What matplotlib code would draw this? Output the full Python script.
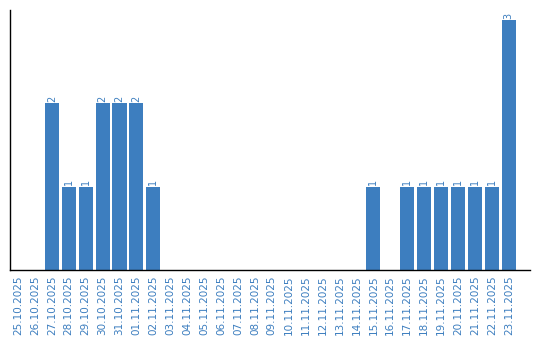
import matplotlib
matplotlib.use("Agg")
import matplotlib.pyplot as plt

dates = ["25.10.2025", "26.10.2025", "27.10.2025", "28.10.2025", "29.10.2025",
         "30.10.2025", "31.10.2025", "01.11.2025", "02.11.2025", "03.11.2025",
         "04.11.2025", "05.11.2025", "06.11.2025", "07.11.2025", "08.11.2025",
         "09.11.2025", "10.11.2025", "11.11.2025", "12.11.2025", "13.11.2025",
         "14.11.2025", "15.11.2025", "16.11.2025", "17.11.2025", "18.11.2025",
         "19.11.2025", "20.11.2025", "21.11.2025", "22.11.2025", "23.11.2025"]
counts = [0, 0, 2, 1, 1, 2, 2, 2, 1, 0,
          0, 0, 0, 0, 0, 0, 0, 0, 0, 0,
          0, 1, 0, 1, 1, 1, 1, 1, 1, 3]

blue = "#3d7ebf"

fig = plt.figure(figsize=(5.4, 3.4), dpi=100)
ax = fig.add_axes([0.0185, 0.206, 0.9625, 0.764])
x = list(range(len(dates)))
ax.bar(x, counts, width=0.83, color=blue)
for xi, c in zip(x, counts):
    if c > 0:
        ax.text(xi, c + 0.02, str(c), rotation=90, ha="center", va="bottom",
                color=blue, fontsize=7)

ax.set_xlim(-0.47, 30.24)
ax.set_ylim(0, 3.12)
ax.set_xticks(x)
ax.set_xticklabels(dates, rotation=90, color=blue, fontsize=7.5)
ax.set_yticks([])
ax.tick_params(axis="x", length=0, pad=4)
for s in ["top", "right"]:
    ax.spines[s].set_visible(False)
ax.spines["left"].set_linewidth(1)
ax.spines["bottom"].set_linewidth(1)

fig.savefig("out.png", dpi=100)
